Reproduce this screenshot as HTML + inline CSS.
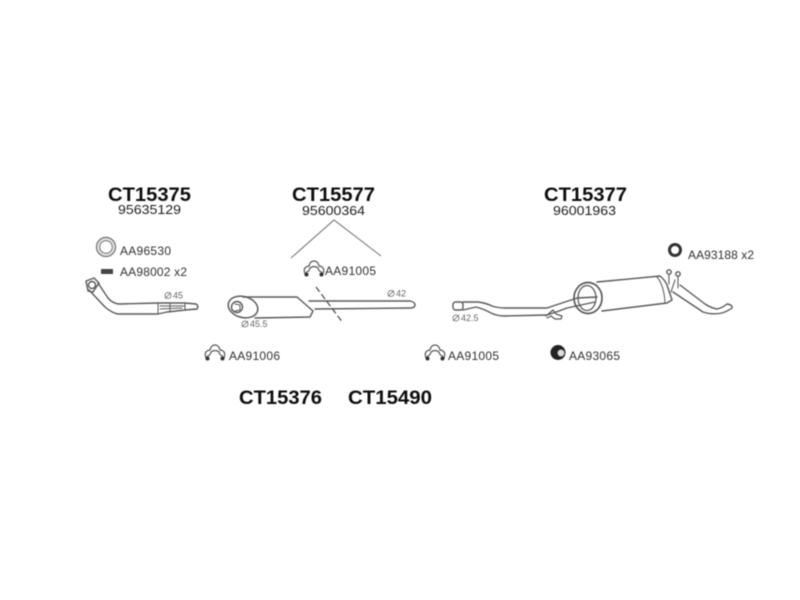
<!DOCTYPE html>
<html><head><meta charset="utf-8"><style>
html,body{margin:0;padding:0;background:#fff}
svg{display:block}
text{font-family:"Liberation Sans",sans-serif}
.h{font-size:19px;font-weight:bold;fill:#111}
.n{font-size:13px;fill:#222}
.l{font-size:12px;fill:#333}
.s{font-size:9px;fill:#666}
.p{fill:none;stroke:#5a5a5a;stroke-width:1.4;stroke-linejoin:round;stroke-linecap:round}
</style></head><body>
<svg width="800" height="600" viewBox="0 0 800 600" xmlns="http://www.w3.org/2000/svg">
<defs>
<filter id="b" x="-5%" y="-5%" width="110%" height="110%"><feGaussianBlur stdDeviation="0.45"/></filter>
<g id="c1" fill="none" stroke="#555" stroke-width="1.2">
<path d="M305 274 Q303 269 306 267 Q308 266 309 266 Q310 261 314 261 Q318 261 319 266 Q321 266 322 267 Q325 269 323 274"/>
<path d="M306 272 Q309 272 310 268 Q314 265 318 268 Q319 272 322 272"/>
<circle cx="306.500" cy="274.500" r="2" fill="#333" stroke="none"/><circle cx="321.500" cy="274.500" r="2" fill="#333" stroke="none"/>
</g>
<g id="dia" fill="none" stroke="#666" stroke-width=".8"><circle cx="0" cy="0" r="3"/><path d="M-3 3 L3 -3"/></g>
</defs>
<rect width="800" height="600" fill="#fff"/>
<g filter="url(#b)">
<text class="h" x="108" y="201" textLength="83" lengthAdjust="spacingAndGlyphs">CT15375</text>
<text class="n" x="118" y="214" textLength="63" lengthAdjust="spacingAndGlyphs">95635129</text>
<text class="h" x="292" y="201" textLength="83" lengthAdjust="spacingAndGlyphs">CT15577</text>
<text class="n" x="302" y="215" textLength="63" lengthAdjust="spacingAndGlyphs">95600364</text>
<text class="h" x="544" y="201" textLength="83" lengthAdjust="spacingAndGlyphs">CT15377</text>
<text class="n" x="553" y="215" textLength="63" lengthAdjust="spacingAndGlyphs">96001963</text>
<text class="h" x="239" y="404" textLength="83" lengthAdjust="spacingAndGlyphs">CT15376</text>
<text class="h" x="348" y="404" textLength="84" lengthAdjust="spacingAndGlyphs">CT15490</text>

<text class="l" x="120" y="255" textLength="51">AA96530</text>
<text class="l" x="120" y="276" textLength="67">AA98002 x2</text>
<text class="l" x="325" y="275" textLength="51">AA91005</text>
<text class="l" x="229" y="360" textLength="51">AA91006</text>
<text class="l" x="448" y="360" textLength="51">AA91005</text>
<text class="l" x="569" y="360" textLength="51">AA93065</text>
<text class="l" x="688" y="259" textLength="66">AA93188 x2</text>

<use href="#dia" x="168" y="295.500"/><text class="s" x="173" y="298.500">45</text>
<use href="#dia" x="245" y="324"/><text class="s" x="250" y="327">45.5</text>
<use href="#dia" x="391" y="293.500"/><text class="s" x="396" y="296.500">42</text>
<use href="#dia" x="456" y="318"/><text class="s" x="461" y="321">42.5</text>

<!-- ring AA96530 -->
<circle cx="106" cy="247" r="8" fill="none" stroke="#e2e2e2" stroke-width="3"/>
<circle cx="106" cy="247" r="9.500" fill="none" stroke="#666" stroke-width="1.200"/>
<circle cx="106" cy="247" r="6.300" fill="none" stroke="#777" stroke-width="1.100"/>
<rect x="101" y="269" width="12" height="5" fill="#444"/>

<!-- front pipe -->
<g class="p">
<path d="M86 281 L94 278 L99 283 L93 292 L88 291 Z"/>
<circle cx="92" cy="285" r="3.500"/>
<path d="M98 283 L108 298 Q113 304 120 304 L158 303 L185 303 L196 304 Q199 306 197 309 L185 310 L167 312 L158 314 L118 314 Q112 313 105 307 L89 290"/>
<path d="M158 303 L158 314 M170 303 L170 312 M185 303 L185 310 M160 306 L185 306 M160 309 L182 308" stroke-width="1"/>
</g>

<!-- V lines -->
<path d="M291 258 L334 220 L381 256" fill="none" stroke="#777" stroke-width="1.100"/>

<!-- clamps -->
<use href="#c1"/>
<use href="#c1" x="-99" y="84"/>
<use href="#c1" x="121" y="84"/>

<!-- middle muffler -->
<g class="p">
<ellipse cx="243" cy="307" rx="15" ry="10.500" stroke-width="1.500" transform="rotate(15 243 307)"/>
<circle cx="237" cy="307" r="5.500" stroke-width="1.400"/>
<path d="M235 304 L240 305 L240 310 L235 311" stroke-width="1"/>
<path d="M243 297 L297 297 L313 311 L310 317 L255 318"/>
<path d="M309 301 L410 301 Q415 302 415 305 Q415 308 410 308 L315 309"/>
</g>
<path d="M316 287 L343 323" fill="none" stroke="#444" stroke-width="1.200" stroke-dasharray="6 3"/>

<!-- rear pipe and muffler -->
<g class="p">
<rect x="453" y="302" width="10" height="8" rx="2.500"/>
<path d="M463 302 L478 302 Q486 303 492 306 Q498 308 505 308 L547 308 Q562 303 577 298 L597 297"/>
<path d="M463 310 L476 307 Q484 309 491 313 Q497 316 505 316 L547 315 Q557 312 567 308 L595 302"/>
<path d="M546 316 L553 310 L556 314 L562 316 L561 319 L555 319 L551 316 L547 318" stroke-width="1.200"/>
<ellipse cx="588" cy="298" rx="14" ry="15.500" stroke-width="1.700"/>
<ellipse cx="587" cy="298" rx="9" ry="12.500" stroke-width="1.300"/>
<path d="M597 282 L660 276 Q665 280 667 285 L672 300 L667 303 L602 311"/>
<path d="M657 277 Q664 285 665 303" stroke-width="1"/>
<path d="M669 284 L669 274 M678 288 L678 276 M675 280 L671 292" stroke-width="1.100"/>
<circle cx="669" cy="272" r="2.200"/><circle cx="678" cy="274" r="2.200"/>
<path d="M680 285 L705 304 Q711 308 717 309 Q722 308 727 304 Q733 305 732 308 Q728 311 722 313 Q712 315 703 312 L673 292"/>
</g>

<!-- rings -->
<circle cx="675" cy="250" r="5.500" fill="none" stroke="#333" stroke-width="3"/>
<circle cx="558" cy="352.500" r="7.500" fill="#222"/>
<circle cx="561" cy="353" r="3.200" fill="#ddd"/>
</g>
</svg>
</body></html>
